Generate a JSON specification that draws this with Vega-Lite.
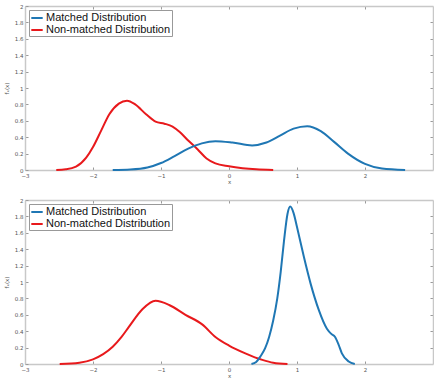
{
  "$schema": "https://vega.github.io/schema/vega-lite/v6.json",
  "background": "white",
  "padding": {"left": 4, "top": 4, "right": 0, "bottom": 0},
  "spacing": 13,
  "config": {
    "view": {"stroke": null},
    "font": "Liberation Sans",
    "axis": {
      "domainColor": "#c8c8c8",
      "domainWidth": 1.5,
      "tickColor": "#999999",
      "tickSize": -3,
      "labelColor": "#555555",
      "labelFontSize": 5.5,
      "labelFont": "DejaVu Sans",
      "titleFont": "DejaVu Sans",
      "titleFontSize": 5.5,
      "titleFontWeight": "normal",
      "titleColor": "#555555",
      "grid": false
    },
    "legend": {
      "orient": "top-left",
      "offset": 4,
      "title": null,
      "strokeColor": "#999999",
      "fillColor": "white",
      "padding": 1,
      "rowPadding": 0,
      "symbolType": "stroke",
      "symbolSize": 130,
      "symbolStrokeWidth": 2,
      "labelFont": "Liberation Sans",
      "labelFontSize": 11,
      "labelColor": "#111111",
      "labelOffset": 2,
      "cornerRadius": 0
    }
  },
  "datasets": {
    "top": [
      {"x": -2.54, "y": 0.0, "series": "Non-matched Distribution"},
      {"x": -2.4, "y": 0.008, "series": "Non-matched Distribution"},
      {"x": -2.25, "y": 0.04, "series": "Non-matched Distribution"},
      {"x": -2.1, "y": 0.15, "series": "Non-matched Distribution"},
      {"x": -2.0, "y": 0.28, "series": "Non-matched Distribution"},
      {"x": -1.88, "y": 0.48, "series": "Non-matched Distribution"},
      {"x": -1.76, "y": 0.68, "series": "Non-matched Distribution"},
      {"x": -1.62, "y": 0.81, "series": "Non-matched Distribution"},
      {"x": -1.5, "y": 0.845, "series": "Non-matched Distribution"},
      {"x": -1.38, "y": 0.8, "series": "Non-matched Distribution"},
      {"x": -1.22, "y": 0.68, "series": "Non-matched Distribution"},
      {"x": -1.08, "y": 0.59, "series": "Non-matched Distribution"},
      {"x": -0.95, "y": 0.565, "series": "Non-matched Distribution"},
      {"x": -0.83, "y": 0.53, "series": "Non-matched Distribution"},
      {"x": -0.72, "y": 0.46, "series": "Non-matched Distribution"},
      {"x": -0.6, "y": 0.36, "series": "Non-matched Distribution"},
      {"x": -0.46, "y": 0.25, "series": "Non-matched Distribution"},
      {"x": -0.33, "y": 0.14, "series": "Non-matched Distribution"},
      {"x": -0.2, "y": 0.08, "series": "Non-matched Distribution"},
      {"x": 0.0, "y": 0.045, "series": "Non-matched Distribution"},
      {"x": 0.2, "y": 0.022, "series": "Non-matched Distribution"},
      {"x": 0.4, "y": 0.008, "series": "Non-matched Distribution"},
      {"x": 0.65, "y": 0.0, "series": "Non-matched Distribution"},
      {"x": -1.71, "y": 0.0, "series": "Matched Distribution"},
      {"x": -1.45, "y": 0.006, "series": "Matched Distribution"},
      {"x": -1.2, "y": 0.03, "series": "Matched Distribution"},
      {"x": -1.0, "y": 0.085, "series": "Matched Distribution"},
      {"x": -0.8, "y": 0.17, "series": "Matched Distribution"},
      {"x": -0.6, "y": 0.26, "series": "Matched Distribution"},
      {"x": -0.4, "y": 0.325, "series": "Matched Distribution"},
      {"x": -0.2, "y": 0.352, "series": "Matched Distribution"},
      {"x": 0.05, "y": 0.335, "series": "Matched Distribution"},
      {"x": 0.34, "y": 0.3, "series": "Matched Distribution"},
      {"x": 0.55, "y": 0.335, "series": "Matched Distribution"},
      {"x": 0.75, "y": 0.42, "series": "Matched Distribution"},
      {"x": 0.95, "y": 0.505, "series": "Matched Distribution"},
      {"x": 1.15, "y": 0.535, "series": "Matched Distribution"},
      {"x": 1.35, "y": 0.475, "series": "Matched Distribution"},
      {"x": 1.55, "y": 0.34, "series": "Matched Distribution"},
      {"x": 1.75, "y": 0.2, "series": "Matched Distribution"},
      {"x": 2.0, "y": 0.075, "series": "Matched Distribution"},
      {"x": 2.25, "y": 0.018, "series": "Matched Distribution"},
      {"x": 2.59, "y": 0.0, "series": "Matched Distribution"}
    ],
    "bottom": [
      {"x": -2.49, "y": 0.0, "series": "Non-matched Distribution"},
      {"x": -2.2, "y": 0.016, "series": "Non-matched Distribution"},
      {"x": -2.0, "y": 0.057, "series": "Non-matched Distribution"},
      {"x": -1.85, "y": 0.12, "series": "Non-matched Distribution"},
      {"x": -1.71, "y": 0.21, "series": "Non-matched Distribution"},
      {"x": -1.58, "y": 0.33, "series": "Non-matched Distribution"},
      {"x": -1.47, "y": 0.455, "series": "Non-matched Distribution"},
      {"x": -1.27, "y": 0.67, "series": "Non-matched Distribution"},
      {"x": -1.08, "y": 0.77, "series": "Non-matched Distribution"},
      {"x": -0.88, "y": 0.72, "series": "Non-matched Distribution"},
      {"x": -0.64, "y": 0.6, "series": "Non-matched Distribution"},
      {"x": -0.39, "y": 0.48, "series": "Non-matched Distribution"},
      {"x": -0.2, "y": 0.33, "series": "Non-matched Distribution"},
      {"x": 0.0, "y": 0.225, "series": "Non-matched Distribution"},
      {"x": 0.24, "y": 0.13, "series": "Non-matched Distribution"},
      {"x": 0.49, "y": 0.05, "series": "Non-matched Distribution"},
      {"x": 0.65, "y": 0.015, "series": "Non-matched Distribution"},
      {"x": 0.86, "y": 0.0, "series": "Non-matched Distribution"},
      {"x": 0.33, "y": 0.0, "series": "Matched Distribution"},
      {"x": 0.4, "y": 0.025, "series": "Matched Distribution"},
      {"x": 0.46, "y": 0.09, "series": "Matched Distribution"},
      {"x": 0.53, "y": 0.19, "series": "Matched Distribution"},
      {"x": 0.59, "y": 0.33, "series": "Matched Distribution"},
      {"x": 0.65, "y": 0.53, "series": "Matched Distribution"},
      {"x": 0.71, "y": 0.8, "series": "Matched Distribution"},
      {"x": 0.76, "y": 1.12, "series": "Matched Distribution"},
      {"x": 0.81, "y": 1.51, "series": "Matched Distribution"},
      {"x": 0.86, "y": 1.83, "series": "Matched Distribution"},
      {"x": 0.9, "y": 1.92, "series": "Matched Distribution"},
      {"x": 0.95, "y": 1.84, "series": "Matched Distribution"},
      {"x": 1.0, "y": 1.67, "series": "Matched Distribution"},
      {"x": 1.1, "y": 1.31, "series": "Matched Distribution"},
      {"x": 1.2, "y": 0.98, "series": "Matched Distribution"},
      {"x": 1.32, "y": 0.66, "series": "Matched Distribution"},
      {"x": 1.44, "y": 0.43, "series": "Matched Distribution"},
      {"x": 1.5, "y": 0.37, "series": "Matched Distribution"},
      {"x": 1.56, "y": 0.33, "series": "Matched Distribution"},
      {"x": 1.61, "y": 0.24, "series": "Matched Distribution"},
      {"x": 1.66, "y": 0.13, "series": "Matched Distribution"},
      {"x": 1.76, "y": 0.03, "series": "Matched Distribution"},
      {"x": 1.85, "y": 0.0, "series": "Matched Distribution"}
    ]
  },
  "vconcat": [
    {
      "width": 408,
      "height": 164,
      "data": {"name": "top"},
      "layer": [
        {
          "mark": {"type": "line", "interpolate": "monotone", "strokeWidth": 2},
          "encoding": {
            "x": {"field": "x", "type": "quantitative", "scale": {"domain": [-3, 3], "nice": false},
                  "axis": {"values": [-3, -2, -1, 0, 1, 2], "title": "x", "titlePadding": 1, "labelPadding": 6, "labelFlush": false}},
            "y": {"field": "y", "type": "quantitative", "scale": {"domain": [0, 2], "nice": false},
                  "axis": {"values": [0, 0.2, 0.4, 0.6, 0.8, 1, 1.2, 1.4, 1.6, 1.8, 2], "format": "~g", "title": "fₓ(x)", "titlePadding": 5, "labelPadding": 5}},
            "color": {"field": "series", "type": "nominal",
                      "scale": {"domain": ["Matched Distribution", "Non-matched Distribution"], "range": ["#1f77b4", "#e8191c"]},
                      "legend": {}}
          }
        },
        {
          "mark": {"type": "point", "opacity": 0},
          "encoding": {
            "x": {"field": "x", "type": "quantitative", "axis": {"orient": "top", "values": [-2, -1, 0, 1, 2], "labels": false, "title": null}},
            "y": {"field": "y", "type": "quantitative", "axis": {"orient": "right", "values": [0.2, 0.4, 0.6, 0.8, 1, 1.2, 1.4, 1.6, 1.8], "labels": false, "title": null}}
          }
        }
      ],
      "resolve": {"axis": {"x": "independent", "y": "independent"}}
    },
    {
      "width": 408,
      "height": 164,
      "data": {"name": "bottom"},
      "layer": [
        {
          "mark": {"type": "line", "interpolate": "monotone", "strokeWidth": 2},
          "encoding": {
            "x": {"field": "x", "type": "quantitative", "scale": {"domain": [-3, 3], "nice": false},
                  "axis": {"values": [-3, -2, -1, 0, 1, 2], "title": "x", "titlePadding": 1, "labelPadding": 6, "labelFlush": false}},
            "y": {"field": "y", "type": "quantitative", "scale": {"domain": [0, 2], "nice": false},
                  "axis": {"values": [0, 0.2, 0.4, 0.6, 0.8, 1, 1.2, 1.4, 1.6, 1.8, 2], "format": "~g", "title": "fₓ(x)", "titlePadding": 5, "labelPadding": 5}},
            "color": {"field": "series", "type": "nominal",
                      "scale": {"domain": ["Matched Distribution", "Non-matched Distribution"], "range": ["#1f77b4", "#e8191c"]},
                      "legend": {}}
          }
        },
        {
          "mark": {"type": "point", "opacity": 0},
          "encoding": {
            "x": {"field": "x", "type": "quantitative", "axis": {"orient": "top", "values": [-2, -1, 0, 1, 2], "labels": false, "title": null}},
            "y": {"field": "y", "type": "quantitative", "axis": {"orient": "right", "values": [0.2, 0.4, 0.6, 0.8, 1, 1.2, 1.4, 1.6, 1.8], "labels": false, "title": null}}
          }
        }
      ],
      "resolve": {"axis": {"x": "independent", "y": "independent"}}
    }
  ],
  "resolve": {"scale": {"color": "independent"}, "legend": {"color": "independent"}}
}
